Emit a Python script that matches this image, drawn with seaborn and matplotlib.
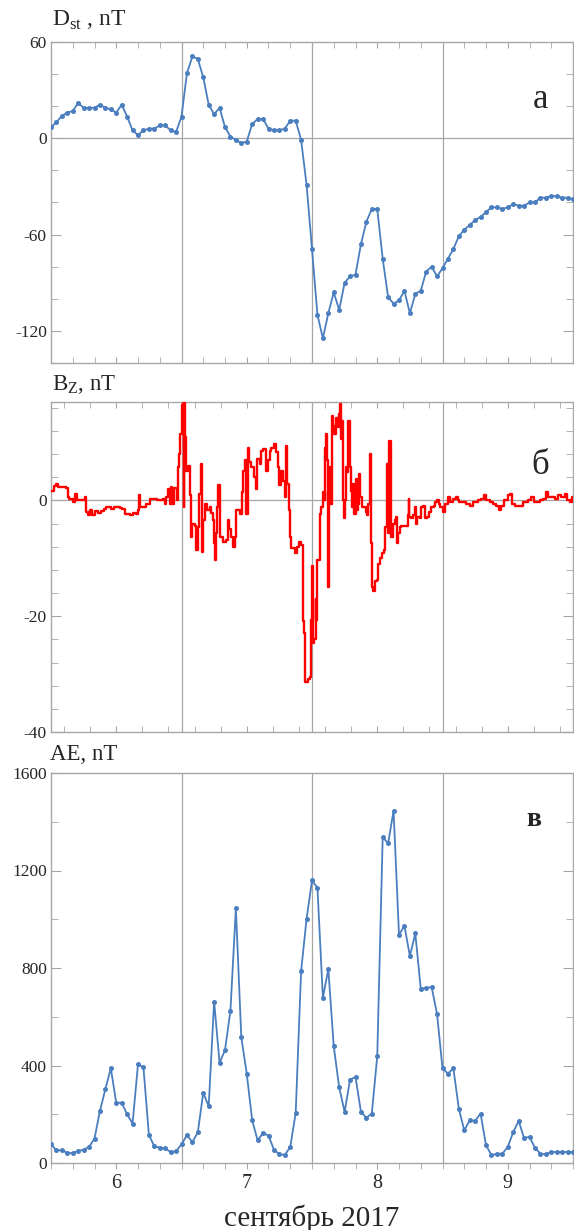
import matplotlib
matplotlib.use("Agg")
import matplotlib.pyplot as plt
import numpy as np
import pandas as pd
import seaborn as sns
from matplotlib.ticker import MultipleLocator, FixedLocator

# hourly Dst, nT, from 5 Sep 12 UT to 9 Sep 12 UT
dst_values = [7, 10, 14, 16, 17, 22, 19, 19, 19, 21, 19, 18, 16, 21, 13.5, 5, 2, 5, 6, 6, 8, 8, 5, 4,
              13.5, 40.6, 51, 49.5, 38, 21, 15, 19, 7, 1, -1, -3, -2, 9, 12, 12, 6, 5, 5, 6, 11, 11, -1, -29,
              -69, -110, -124.6, -109, -96, -107, -90, -86, -85, -66, -52, -44, -44, -75, -99, -103, -101, -95,
              -109, -97, -95, -83, -80, -86,
              -81, -75, -69, -61, -57, -54, -51, -49, -46, -43, -43, -44, -43, -41, -42, -42, -40, -40, -37, -37,
              -36, -36, -37, -37, -38]

# hourly AE, nT
ae_values = [77, 52, 52, 41, 41, 49, 55, 66, 100, 214, 303, 389, 247, 247, 200, 162, 405, 392, 116, 68,
             63, 60, 45, 48,
             77, 114, 86, 126, 288, 233, 662, 411, 463, 625, 1045, 515, 367, 175, 93, 123, 112, 55, 36, 33,
             66, 205, 788, 1001,
             1159, 1129, 678, 795, 479, 310, 210, 342, 353, 210, 185, 203, 438, 1336, 1312, 1445, 936, 973,
             849, 942, 715, 718, 722, 611,
             388, 367, 388, 223, 134, 175, 173, 203, 73, 32, 38, 38, 66, 126, 173, 103, 107, 63, 38, 36,
             45, 45, 45, 45, 45]

# Bz (GSM), nT, hours after 5 Sep 12 UT
bz_hours = [0.0, 0.6, 0.9, 1.3, 2.8, 3.1, 3.4, 4.0, 4.5, 4.8, 5.8, 6.2, 6.5, 6.8, 7.2, 7.6, 8.0, 8.6,
            9.2, 9.8, 10.2, 11.0, 11.6, 12.6, 13.0, 13.6, 14.5, 15.0, 15.6, 16.0, 16.2, 16.4, 17.5, 18.2,
            19.5, 20.6, 20.9, 21.2, 21.5, 21.8, 22.0, 22.3, 22.6, 23.1, 23.3, 23.6, 23.8, 24.0,
            24.25, 24.4, 24.5, 24.7, 24.9, 25.2, 25.5, 25.8, 26.0, 26.4, 26.7, 27.0, 27.3, 27.5, 27.6,
            27.8, 28.0, 28.4, 28.7, 29.2, 29.5, 29.8, 29.95, 30.2, 30.4, 30.6, 30.8, 31.0, 31.1, 31.6,
            32.2, 32.5, 32.8, 33.1, 33.4, 33.75, 34.05, 34.7, 35.1, 35.4, 35.65, 35.9, 36.2, 36.5, 36.8,
            37.4, 37.7, 37.9, 38.35, 38.65, 38.95, 39.45, 39.6, 39.9, 40.2, 40.5, 41.1, 41.4, 41.7, 42.0,
            42.3, 42.65, 42.95, 43.25, 43.45, 43.75, 43.9, 44.2, 44.8, 45.2, 45.6, 46.0, 46.3, 46.6, 46.8,
            47.25, 47.6, 47.75, 47.9,
            48.0, 48.15, 48.45, 48.65, 48.8, 48.9, 49.15, 49.4, 49.7, 50.0, 50.3, 50.4, 50.6, 50.8, 51.0,
            51.2, 51.4, 51.6, 51.85, 52.1, 52.45, 52.75, 52.9, 53.1, 53.25, 53.5, 53.7, 53.85, 54.0, 54.2,
            54.4, 54.7, 54.95, 55.15, 55.3, 55.5, 55.8, 56.0, 56.25, 56.4, 56.7, 56.9, 57.2, 57.5, 57.85,
            58.1, 58.3, 58.6, 58.8, 58.95, 59.3, 59.6, 60.0, 60.2, 60.55, 60.9, 61.2, 61.35, 61.65, 61.85,
            62.0, 62.25, 62.45, 62.6, 62.9, 63.2, 63.5, 63.6, 63.8, 64.1, 64.4, 65.3, 65.6, 65.8, 65.9,
            66.2, 66.6, 66.9, 67.05, 67.3, 67.8, 68.1, 68.4, 68.7, 69.1, 69.5, 69.9, 70.35, 70.7, 71.0,
            71.3, 71.6,
            72.0, 72.2, 72.55, 73.0, 73.3, 74.0, 74.5, 74.8, 75.1, 76.35, 77.0, 77.6, 78.5, 79.1, 79.55,
            80.0, 80.65, 81.25, 81.9, 82.4, 82.8, 83.4, 84.0, 84.45, 84.8, 85.25, 86.2, 86.8, 87.7, 88.3,
            88.9, 89.85, 90.45, 90.95, 91.4, 92.6, 93.2, 93.8, 94.45, 94.9, 95.4, 95.85, 96.0]
bz_values = [1.7, 2.5, 2.9, 2.3, 2.2, 0.6, 0.3, -0.3, 1.1, 0.0, 0.0, 0.6, -2.0, -2.6, -1.7, -2.5, -1.8, -2.2,
             -1.9, -1.4, -1.2, -1.5, -1.1, -1.3, -1.5, -2.3, -2.6, -2.1, -2.4, -1.7, 0.9, -1.1, -0.6, 0.2,
             0.1, 0.3, -0.6, 0.6, 2.0, -0.6, 2.3, -0.6, 2.2, 0.0, 5.7, 8.0, 11.4, 16.5,
             20, -1.1, 18, 11, 5, 6, 0.9, -6.3, -4, -4.5, -8.6, -4.6, 1.1, 2, 6.3,
             -8.9, -3.4, -0.6, -1.7, -1.2, -2.2, -3.4, -7.4, -10.3, -5.7, -1.1, 2.6, -1.1, -6.3, -7.2,
             -6.9, -3.4, -5, -6.3, -8, -6.3, -1.7, -2.3, 1.4, 5.1, 6.9, -2.3, 9.1, 6.6, 5.7,
             4, 2, 7.1, 6.3, 8.6, 8.9, 8.5, 5.1, 6.9, 8.6, 9.1, 9.7, 8.3, 5.7, 2.6,
             5.1, 3.4, 0.6, 9.4, 2.9, -1.7, -6.3, -8.3, -9.1, -8, -7.1, -7.7, -20.9, -22.9, -31.4,
             -30.9, -30.5, -28, -20.6,
             -11.4, -24.6, -24, -17, -20.6, -10.3, -10.3, -2.3, -1.1, 1.4, 0, 9.1, 11.4, 6.9, -14.9,
             5.7, -0.6, 14.6, 12.9, 11.4, 14.3, 12.6, 14.9, 16.6, 10.6, 13.7, 0, -3.1, 0, 5.7,
             4.9, 13.7, 5.7, 1.7, -1.1, 2.9, -2.3, 3.7, -1.7, -0.6, 4.6, 0.6, -1.1, -1.1, -2,
             -2.6, -0.6, 8, -7.4, -14.9, -15.7, -14, -13.7, -10.9, -10, -9.1, -8.6, -4.6, -4.6, 6.3,
             -5.7, 10.3, -4.6, -6.3, -4, -3.4, -2.9, -7.4, -5.7, -4.6, -4.5, -4.5, -2.6, 0.2, -2.9,
             -3.1, -2.6, -1.1, -4, -2.9, -3.1, -1.1, -0.9, -3.1, -2.9, -2, -1.1, -0.9, -0.3, 0,
             -0.6, -1.1,
             -2, -2, -0.6, 0.6, -0.3, 0.3, 0.6, 0, -0.3, -0.6, -0.9, -0.3, 0, 0.3, 0.9,
             0, -0.3, -0.6, -0.9, -1.7, -0.9, 0, 0.9, 1.1, -0.6, -0.9, -0.9, -0.3, 0, 0.6,
             -0.3, 0, 0.3, 1.4, 0.6, 0.3, 0.9, 0.6, 1.1, 0, -0.3, 0.6, 0.6]

day_ticks = [6, 7, 8, 9]
day_bounds = [6.5, 7.5, 8.5]
start_day = 5.5

sns.set_style("white")
plt.rcParams['font.family'] = ['Liberation Serif', 'DejaVu Serif']
plt.rcParams['mathtext.fontset'] = 'custom'
plt.rcParams['mathtext.rm'] = 'Liberation Serif'
plt.rcParams['axes.unicode_minus'] = False

hours = np.arange(len(dst_values))
dst = pd.DataFrame({"day": start_day + hours / 24, "Dst": dst_values})
ae = pd.DataFrame({"day": start_day + np.arange(len(ae_values)) / 24, "AE": ae_values})
bz = pd.DataFrame({"day": start_day + np.array(bz_hours) / 24, "Bz": bz_values})

W, H = 574, 1230
fig = plt.figure(figsize=(W / 100, H / 100), dpi=100)


def box(top, bottom, left=51, right=573):
    return [left / W, 1 - bottom / H, (right - left) / W, (bottom - top) / H]


ax_a = fig.add_axes(box(42, 363))
ax_b = fig.add_axes(box(402, 732))
ax_c = fig.add_axes(box(773, 1163))

grey = '#a6a6a6'
blue = '#4a7ebf'

sns.lineplot(data=dst, x="day", y="Dst", ax=ax_a, color=blue, lw=1.3, marker='o',
             markersize=3.6, markeredgewidth=0, zorder=3)
sns.lineplot(data=bz, x="day", y="Bz", ax=ax_b, color='#ff0000', lw=1.7,
             drawstyle='steps-post', estimator=None, sort=False, zorder=3)
sns.lineplot(data=ae, x="day", y="AE", ax=ax_c, color=blue, lw=1.3, marker='o',
             markersize=3.6, markeredgewidth=0, zorder=3)

ax_a.set_ylim(-140, 60)
ax_b.set_ylim(-40, 17)
ax_c.set_ylim(0, 1600)

ax_a.yaxis.set_major_locator(FixedLocator([60, 0, -60, -120]))
ax_a.yaxis.set_minor_locator(MultipleLocator(20))
ax_b.yaxis.set_major_locator(FixedLocator([0, -20, -40]))
ax_b.yaxis.set_minor_locator(MultipleLocator(4))
ax_c.yaxis.set_major_locator(MultipleLocator(400))
ax_c.yaxis.set_minor_locator(MultipleLocator(200))

for ax, per_day in [(ax_a, 6), (ax_b, 5), (ax_c, 6)]:
    ax.set_xlim(5.5, 9.5)
    ax.set_xlabel('')
    ax.set_ylabel('')
    for d in day_bounds:
        ax.axvline(d, color=grey, lw=0.9, zorder=1)
    for s in ax.spines.values():
        s.set_color(grey)
        s.set_linewidth(1.0)
    ax.xaxis.set_major_locator(FixedLocator(day_ticks))
    ax.xaxis.set_minor_locator(MultipleLocator(1 / per_day))
    ax.tick_params(axis='y', which='both', direction='in', left=True, right=True,
                   color=grey, labelsize=12.5, pad=3)
    ax.tick_params(axis='y', which='major', length=7)
    ax.tick_params(axis='y', which='minor', length=5)
    ax.tick_params(axis='x', which='both', color=grey, length=4)

ax_a.axhline(0, color=grey, lw=0.9, zorder=1)
ax_b.axhline(0, color=grey, lw=0.9, zorder=1)

for ax in (ax_a, ax_b):
    ax.tick_params(axis='x', which='both', direction='in', top=True, bottom=True, labelbottom=False)
ax_c.tick_params(axis='x', which='both', direction='out', top=False, bottom=True, labelsize=14.5, pad=4)

ax_c.set_xlabel('сентябрь 2017', fontsize=21, labelpad=8)

fig.text(52 / W, 1 - 20 / H, r'D$_{\mathrm{st}}$ , nT', fontsize=17, va='center', ha='left')
fig.text(52 / W, 1 - 385 / H, r'B$_{\mathrm{Z}}$, nT', fontsize=16.5, va='center', ha='left')
fig.text(50 / W, 1 - 755 / H, 'AE, nT', fontsize=16.5, va='center', ha='left')

fig.text(541 / W, 1 - 100 / H, 'а', fontsize=25, ha='center', va='center')
fig.text(540 / W, 1 - 465 / H, 'б', fontsize=25, ha='center', va='center')
fig.text(534 / W, 1 - 820 / H, 'в', fontsize=20, fontweight='bold', ha='center', va='center')

fig.savefig('out.png', dpi=100)
